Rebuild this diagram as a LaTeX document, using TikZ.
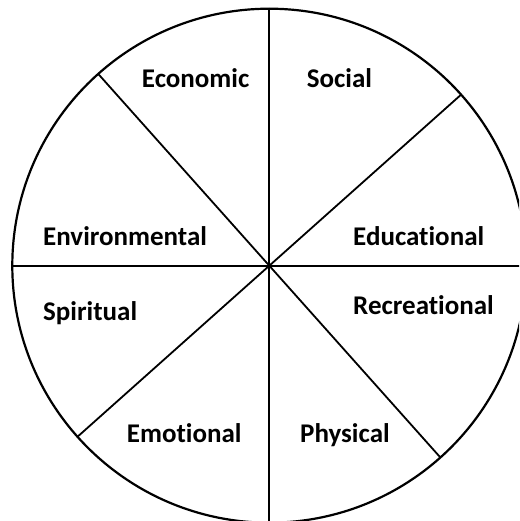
\documentclass[tikz,border=0pt]{standalone}
\usepackage{fontspec}
\setmainfont{Carlito}[Ligatures={NoCommon}]
\begin{document}
\begin{tikzpicture}[x=1pt,y=-1pt,
  rim/.style={line width=2.2pt},
  spoke/.style={line width=1.8pt},
  lbl/.style={anchor=base west,inner sep=0pt,font=\fontsize{27}{31}\selectfont\bfseries}]
\useasboundingbox (0,0) rectangle (519,521);
\clip (0,0) rectangle (519,521);
\coordinate (c) at (269.3,265.7);
\draw[rim] (c) circle[radius=257];
\path (c) ++(0,-258) coordinate (top)
      (c) ++(0,258) coordinate (bot)
      (c) ++(-258,0) coordinate (lft)
      (c) ++(258,0) coordinate (rgt)
      (c) ++(-171,-191.7) coordinate (ul)
      (c) ++(171,191.7) coordinate (lr)
      (c) ++(191.4,-170.7) coordinate (ur)
      (c) ++(-191.4,170.7) coordinate (ll);
\draw[spoke] (top) -- (bot);
\draw[spoke] (lft) -- (rgt);
\draw[spoke] (ul) -- (lr);
\draw[spoke] (ur) -- (ll);
\node[lbl] (econ) at (141.7,88) {Economic};
\node[lbl] (soc) at (306.7,88) {Social};
\node[lbl] (env) at (43,245) {Environmental};
\node[lbl] (edu) at (353,245) {Educational};
\node[lbl] (spi) at (43,320) {Spiritual};
\node[lbl] (rec) at (353,314) {Recreational};
\node[lbl] (emo) at (126.7,442) {Emotional};
\node[lbl] (phy) at (300,442) {Physical};
\end{tikzpicture}
\end{document}
